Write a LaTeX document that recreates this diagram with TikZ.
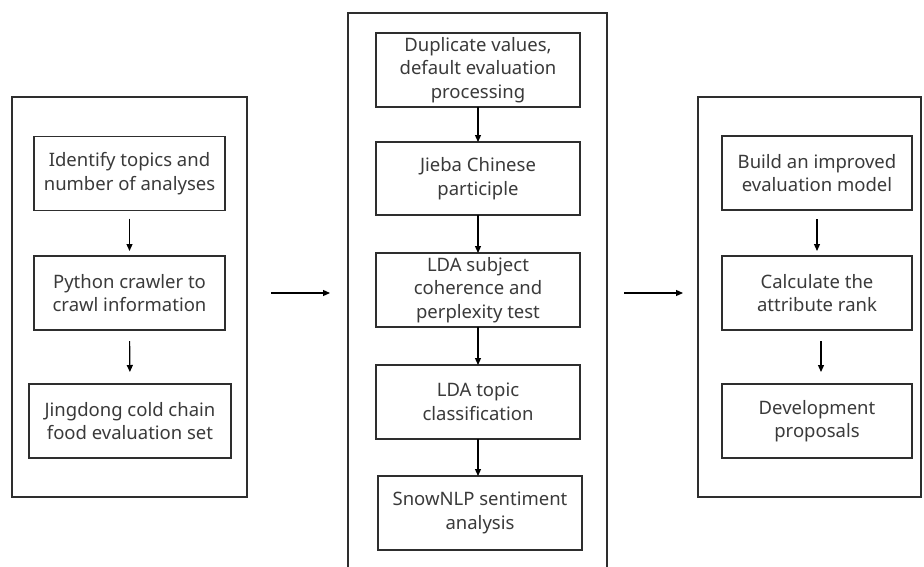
\documentclass[tikz,border=0pt]{standalone}
\usepackage{fontspec}
\setmainfont{Noto Sans}
\usetikzlibrary{arrows.meta}
\definecolor{txt}{HTML}{3A3A3A}
\definecolor{ln}{HTML}{2E2E2E}
\begin{document}
\begin{tikzpicture}[x=1pt,y=-1pt,
  outerbox/.style={draw=ln,line width=1.6pt},
  stepbox/.style={draw=ln,line width=1.6pt,outer sep=0pt,inner sep=0pt,align=center,
    text=txt,font=\fontsize{18.5pt}{23.5pt}\selectfont,minimum height=74pt},
  flow/.style={draw=black,line width=1.2pt,-{Triangle[length=7pt,width=6pt]}}]
\useasboundingbox[fill=white] (0,0) rectangle (924,566);
% outer frames
\draw[outerbox] (12,97) rectangle (247,497);
\draw[outerbox] (348,13) rectangle (607,575);
\draw[outerbox] (698,97) rectangle (921,497);
% left column
\node[stepbox,minimum width=191pt] (L1) at (129.5,173.5) {Identify topics and\\number of analyses};
\node[stepbox,minimum width=191pt] (L2) at (129.5,293) {Python crawler to\\crawl information};
\node[stepbox,minimum width=202pt] (L3) at (130,421) {Jingdong cold chain\\food evaluation set};
% middle column
\node[stepbox,minimum width=204pt] (M1) at (478,70) {Duplicate values,\\default evaluation\\processing};
\node[stepbox,minimum width=204pt,minimum height=73pt] (M2) at (478,178.5) {Jieba Chinese\\participle};
\node[stepbox,minimum width=204pt] (M3) at (478,290) {LDA subject\\coherence and\\perplexity test};
\node[stepbox,minimum width=204pt] (M4) at (478,402) {LDA topic\\classification};
\node[stepbox,minimum width=204pt] (M5) at (480,513) {SnowNLP sentiment\\analysis};
% right column
\node[stepbox,minimum width=190pt] (R1) at (817,173) {Build an improved\\evaluation model};
\node[stepbox,minimum width=190pt] (R2) at (817,293) {Calculate the\\attribute rank};
\node[stepbox,minimum width=190pt] (R3) at (817,421) {Development\\proposals};
% coordinates for the links between frames
\coordinate (a1) at (271,293);
\coordinate (a2) at (330,293);
\coordinate (b1) at (624,293);
\coordinate (b2) at (683,293);
% arrows
\draw[flow,shorten <=8pt,shorten >=5pt] (L1.south) -- (L2.north);
\draw[flow,shorten <=11pt,shorten >=12pt] (L2.south) -- (L3.north);
\draw[flow] (M1.south) -- (M2.north);
\draw[flow] (M2.south) -- (M3.north);
\draw[flow] (M3.south) -- (M4.north);
\draw[flow] (M4.south) -- (M4.south |- M5.north);
\draw[flow,shorten <=9pt,shorten >=5pt] (R1.south) -- (R1.south |- R2.north);
\draw[flow,shorten <=11pt,shorten >=12pt] ([xshift=4pt]R2.south) -- ([xshift=4pt]R3.north);
\draw[flow] (a1) -- (a2);
\draw[flow] (b1) -- (b2);
\end{tikzpicture}
\end{document}
